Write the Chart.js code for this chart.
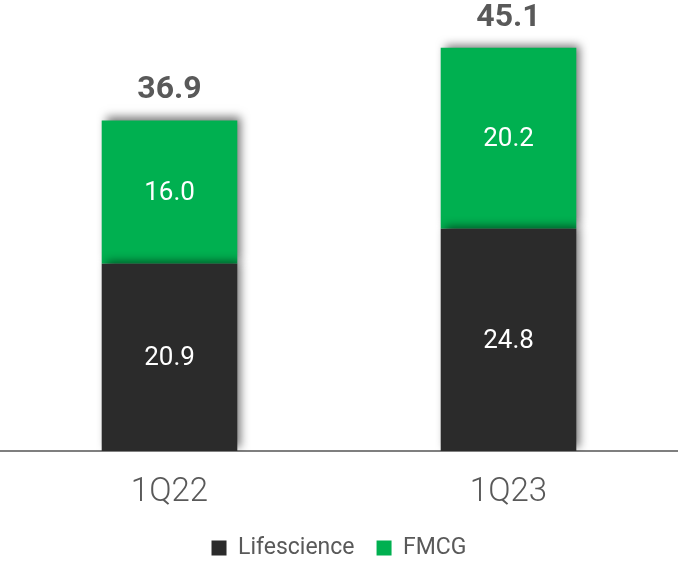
<!DOCTYPE html>
<html>
<head>
<meta charset="utf-8">
<script src="https://cdn.jsdelivr.net/npm/chart.js@4/dist/chart.umd.min.js"></script>
<style>
html,body{margin:0;padding:0;background:#fff;}
#wrap{width:678px;height:562px;}
</style>
</head>
<body>
<div id="wrap"><canvas id="c" width="678" height="562"></canvas></div>
<script>
const categories = ['1Q22', '1Q23'];
const lifescience = [20.9, 24.8];
const fmcg = [16.0, 20.2];
const totals = [36.9, 45.1];

const shadowPlugin = {
  id: 'barShadow',
  beforeDatasetsDraw(chart) {
    const ctx = chart.ctx;
    ctx.save();
    ctx.shadowColor = 'rgba(0,0,0,0.55)';
    ctx.shadowBlur = 9;
    ctx.shadowOffsetX = 4;
    ctx.shadowOffsetY = -3;
  },
  afterDatasetsDraw(chart) {
    chart.ctx.restore();
  }
};

const labelPlugin = {
  id: 'valueLabels',
  afterDatasetsDraw(chart) {
    const ctx = chart.ctx;
    ctx.save();
    ctx.textAlign = 'center';
    ctx.textBaseline = 'middle';
    chart.data.datasets.forEach((ds, di) => {
      const meta = chart.getDatasetMeta(di);
      meta.data.forEach((bar, i) => {
        const cy = (bar.y + bar.base) / 2 + 1.5;
        ctx.fillStyle = '#ffffff';
        ctx.font = '26px Roboto';
        ctx.fillText(ds.data[i].toFixed(1), bar.x, cy);
      });
    });
    const top = chart.getDatasetMeta(1);
    top.data.forEach((bar, i) => {
      ctx.fillStyle = '#595959';
      ctx.font = 'bold 32px Roboto';
      ctx.fillText(totals[i].toFixed(1), bar.x, bar.y - 30);
    });
    ctx.restore();
  }
};

const LEGEND_PAD = 22;

const chart = new Chart(document.getElementById('c'), {
  type: 'bar',
  data: {
    labels: categories,
    datasets: [
      { label: 'Lifescience', data: lifescience, backgroundColor: '#2b2b2b', borderWidth: 0 },
      { label: 'FMCG', data: fmcg, backgroundColor: '#00b050', borderWidth: 0 }
    ]
  },
  options: {
    responsive: false,
    animation: false,
    layout: { padding: { top: 3, left: 0, right: 0, bottom: 0 } },
    datasets: { bar: { categoryPercentage: 1.0, barPercentage: 0.4 } },
    scales: {
      x: {
        stacked: true,
        grid: { display: false, drawTicks: false },
        border: { display: true, color: '#7f7f7f', width: 2 },
        ticks: { color: '#595959', font: { family: 'Roboto', size: 33, weight: '300' }, padding: 22 }
      },
      y: {
        stacked: true,
        display: false,
        min: 0,
        max: 50
      }
    },
    plugins: {
      legend: {
        position: 'bottom',
        labels: {
          color: '#595959',
          font: { family: 'Roboto', size: 23 },
          boxWidth: 15,
          boxHeight: 15,
          padding: LEGEND_PAD
        }
      },
      tooltip: { enabled: false }
    }
  },
  plugins: [shadowPlugin, labelPlugin]
});

// keep the legend compact so the plot area ends where the reference's axis is
const legendBox = chart.legend;
const origFit = legendBox.fit;
legendBox.fit = function () {
  origFit.call(this);
  this.height = 27.4;
};
const origInnerDraw = legendBox._draw;
legendBox._draw = function () {
  const ctx = this.ctx;
  ctx.save();
  ctx.translate(0, 2 - LEGEND_PAD);
  origInnerDraw.call(this);
  ctx.restore();
};
chart.update();
</script>
</body>
</html>
